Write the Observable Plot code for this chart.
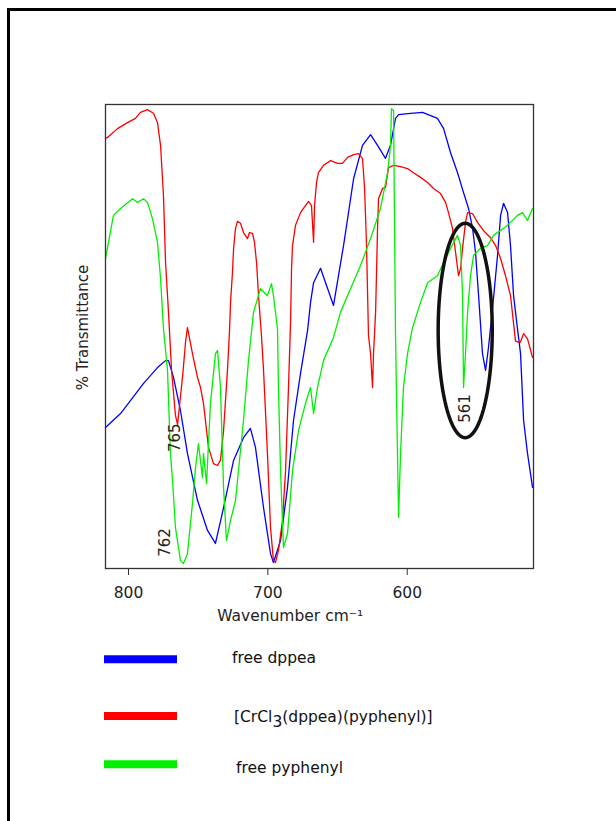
<!DOCTYPE html>
<html>
<head>
<meta charset="utf-8">
<script src="https://cdn.jsdelivr.net/npm/d3@7"></script>
<script src="https://cdn.jsdelivr.net/npm/@observablehq/plot@0.6"></script>
<style>
  html, body { margin: 0; padding: 0; background: #fff; }
  body { width: 616px; height: 821px; position: relative; overflow: hidden; font-family: "DejaVu Sans", sans-serif; }
  #frame { position: absolute; left: 7px; top: 8px; width: 700px; height: 900px; border-left: 3px solid #000; border-top: 3px solid #000; }
  #chart { position: absolute; left: 0; top: 0; }
  #legend { position: absolute; left: 0; top: 630px; }
</style>
</head>
<body>
<div id="frame"></div>
<div id="chart"></div>
<div id="legend"></div>
<script>
// ---- Data (wavenumber cm^-1, relative % transmittance) ----
const seriesNames = ["free dppea", "[CrCl3(dppea)(pyphenyl)]", "free pyphenyl"];
const seriesColors = ["#0000ff", "#ff0000", "#00f000"];

const dppeaW = [816.5,805.7,798.6,789.2,779.2,773.4,771.3,767.7,762.7,757.7,750.5,743.3,737.6,731.8,724.6,717.5,712.5,708.9,703.1,698.1,696.0,690.9,685.9,681.6,676.6,671.5,669.4,667.2,662.2,652.9,645.7,638.5,632.1,626.3,621.3,615.6,612.0,608.4,606.2,597.6,589.0,578.3,573.9,568.9,563.9,559.6,556.0,553.1,551.0,548.8,546.0,543.8,541.7,538.8,535.2,533.0,530.9,528.0,525.9,523.7,520.9,518.7,516.5,513.7,510.1];
const dppeaT = [30.4,33.4,36.2,39.9,43.3,44.8,44.8,41.2,34.0,24.8,14.7,8.2,5.4,13.1,23.3,28.2,30.2,26.1,13.1,3.2,1.3,6.0,17.5,31.9,42.0,51.3,57.3,61.6,64.7,56.7,69.6,84.0,91.2,93.5,91.2,88.4,91.2,97.0,97.8,98.1,98.3,97.0,94.8,89.6,85.3,81.0,77.6,73.3,68.1,58.8,46.3,42.7,47.6,56.0,67.5,76.1,78.7,76.7,69.6,58.8,51.7,46.3,31.9,24.8,17.5];

const complexW = [816.5,815.1,807.9,800.7,795.0,791.4,786.4,782.1,779.2,777.0,774.9,773.4,771.3,769.1,766.3,764.8,761.0,759.0,757.7,754.1,750.5,748.3,746.2,742.6,739.0,736.1,734.0,731.8,729.0,727.5,726.8,725.4,724.6,723.2,721.8,719.6,717.5,714.6,713.2,711.0,709.6,708.1,706.7,704.6,703.1,700.3,698.1,696.0,694.5,692.4,689.5,687.3,685.2,683.7,683.0,682.3,680.2,676.6,673.0,670.8,668.7,667.2,666.5,665.1,663.7,660.1,655.0,650.0,646.4,642.8,638.5,634.9,632.1,630.6,629.2,627.8,626.3,624.9,624.2,622.7,621.3,620.6,617.7,615.6,613.4,609.8,604.8,599.8,595.5,590.5,585.4,581.1,576.1,572.5,570.4,567.5,565.3,563.2,561.7,560.3,558.2,556.7,553.1,549.6,545.2,540.2,536.6,533.0,529.5,525.9,522.3,519.0,516.5,513.7,510.1];
const complexT = [92.7,92.9,94.8,96.1,97.0,98.3,98.9,98.1,96.1,91.2,80.4,65.9,55.2,42.7,33.0,31.0,42.0,49.0,51.9,46.3,41.2,39.0,35.6,26.1,22.6,22.2,23.3,29.7,42.7,51.3,57.3,63.8,69.0,73.3,74.8,74.4,72.4,71.1,72.4,72.2,70.3,65.9,58.8,50.2,42.7,24.8,8.8,1.7,1.3,3.9,10.3,21.1,39.0,53.4,64.7,69.6,73.9,76.7,78.2,79.1,78.2,70.3,78.2,83.2,85.3,86.9,87.9,87.3,87.3,88.6,89.2,89.4,88.4,81.9,69.6,50.2,46.3,39.0,46.3,55.2,73.3,79.7,81.9,82.1,86.4,86.9,86.6,86.2,85.3,84.3,83.2,81.9,80.8,78.9,76.7,73.3,68.1,63.1,64.7,69.0,74.6,76.7,76.5,74.6,72.8,71.3,69.6,66.8,63.1,58.8,49.0,48.7,50.6,49.5,45.5];

const pyphenylW = [816.5,810.8,805.7,797.1,793.5,789.2,786.4,782.8,779.2,777.0,774.9,772.0,769.9,768.4,766.3,762.7,760.5,757.7,754.1,751.9,749.8,746.9,746.2,744.0,741.2,737.6,736.1,734.0,731.8,729.7,726.8,723.2,717.5,713.9,710.3,705.3,700.3,697.4,696.0,693.1,692.4,690.9,688.8,685.9,682.3,678.0,673.0,669.4,667.2,664.4,660.1,652.9,647.9,640.7,633.5,626.3,619.2,614.1,612.0,611.3,609.8,609.1,608.4,607.0,606.2,604.8,602.7,599.8,596.2,590.5,585.4,578.3,574.0,568.9,563.9,561.7,560.3,559.6,558.2,556.7,554.6,552.4,547.4,542.4,538.1,530.9,525.9,520.9,517.3,513.7,510.1];
const pyphenylT = [66.8,76.1,77.6,79.7,78.9,79.7,78.9,75.4,70.3,62.5,51.7,42.7,24.8,19.0,8.8,1.7,1.1,3.2,14.0,21.8,26.9,19.6,24.8,18.3,35.6,46.3,47.0,39.0,17.5,6.0,10.3,14.7,31.9,44.8,55.2,60.3,58.8,61.4,58.8,51.7,39.0,21.1,4.5,7.5,21.1,29.7,35.6,39.0,33.4,39.0,44.8,49.8,55.2,60.3,65.3,71.1,77.6,85.3,91.2,99.1,98.7,73.3,50.2,24.8,11.0,24.8,39.0,46.3,51.9,57.3,61.6,63.1,65.9,69.0,71.8,69.6,58.8,39.0,46.3,55.2,63.1,67.5,69.0,69.6,71.8,73.3,74.6,76.1,76.7,75.0,77.6];

const xTicks = [800, 700, 600];
const xDomain = [816.5, 509.4];
const yDomain = [0, 100];

const peakLabels = ["765", "762", "561"];
const peakLabelW = [766.3, 773.4, 558.2];
const peakLabelT = [28.2, 5.6, 34.5];

// highlighted band (ellipse) around the 561 peak: centre and half-axes in data units
const ellipseCenter = [558.4, 51.3];
const ellipseRadii = [19.4, 23.1];

// ---- Build tables ----
const table = [];
[[dppeaW, dppeaT], [complexW, complexT], [pyphenylW, pyphenylT]].forEach(([W, T], i) => {
  W.forEach((w, j) => table.push({series: seriesNames[i], w, t: T[j]}));
});
const ellipse = d3.range(0, 121).map(k => {
  const a = (k / 120) * 2 * Math.PI;
  return {w: ellipseCenter[0] + ellipseRadii[0] * Math.cos(a), t: ellipseCenter[1] + ellipseRadii[1] * Math.sin(a)};
});
const labels = peakLabels.map((s, i) => ({s, w: peakLabelW[i], t: peakLabelT[i]}));

const font = "DejaVu Sans, sans-serif";
const chart = Plot.plot({
  width: 616,
  height: 640,
  marginLeft: 105,
  marginRight: 83,
  marginTop: 104,
  marginBottom: 72,
  style: {fontFamily: font, background: "transparent", color: "#222"},
  x: {domain: xDomain, ticks: xTicks},
  y: {domain: yDomain},
  color: {domain: seriesNames, range: seriesColors},
  marks: [
    Plot.line(table, {x: "w", y: "t", z: "series", stroke: "series", strokeWidth: 1.3}),
    Plot.line(ellipse, {x: "w", y: "t", stroke: "#111", strokeWidth: 3.5}),
    Plot.text(labels, {x: "w", y: "t", text: "s", rotate: -90, fontSize: 15, fill: "#222", textAnchor: "middle", lineAnchor: "middle"}),
    Plot.frame({stroke: "#333", strokeWidth: 1.3}),
    Plot.axisX({ticks: xTicks, tickSize: 7, tickPadding: 11, fontSize: 15.5, label: null, stroke: "#333", fill: "#222"}),
    Plot.axisY({ticks: [], label: null}),
    Plot.text(["Wavenumber cm⁻¹"], {x: 684, frameAnchor: "bottom", lineAnchor: "bottom", dy: 52.7, fontSize: 15.5, fill: "#222", textAnchor: "middle"}),
    Plot.text(["% Transmittance"], {frameAnchor: "left", dx: -22, dy: -9, rotate: -90, fontSize: 15, fill: "#222", textAnchor: "middle", lineAnchor: "middle"})
  ]
});
document.getElementById("chart").appendChild(chart);

// ---- Legend ----
const legendY = [29.3, 86, 134.3];
const legendTextY = [33.3, 91.7, 143.3];
const legendTextX = [232, 234, 236];
const svg = d3.select("#legend").append("svg").attr("width", 616).attr("height", 180)
  .style("font-family", font);
seriesNames.forEach((name, i) => {
  svg.append("line").attr("x1", 104).attr("x2", 177).attr("y1", legendY[i]).attr("y2", legendY[i])
    .attr("stroke", seriesColors[i]).attr("stroke-width", 8);
  const t = svg.append("text").attr("x", legendTextX[i]).attr("y", legendTextY[i])
    .attr("font-size", 15.5).attr("fill", "#111");
  if (name.includes("CrCl3")) {
    t.append("tspan").text("[CrCl");
    t.append("tspan").attr("dy", 5).attr("font-size", 15.5).text("3");
    t.append("tspan").attr("dy", -5).text("(dppea)(pyphenyl)]");
  } else {
    t.text(name);
  }
});
</script>
</body>
</html>
